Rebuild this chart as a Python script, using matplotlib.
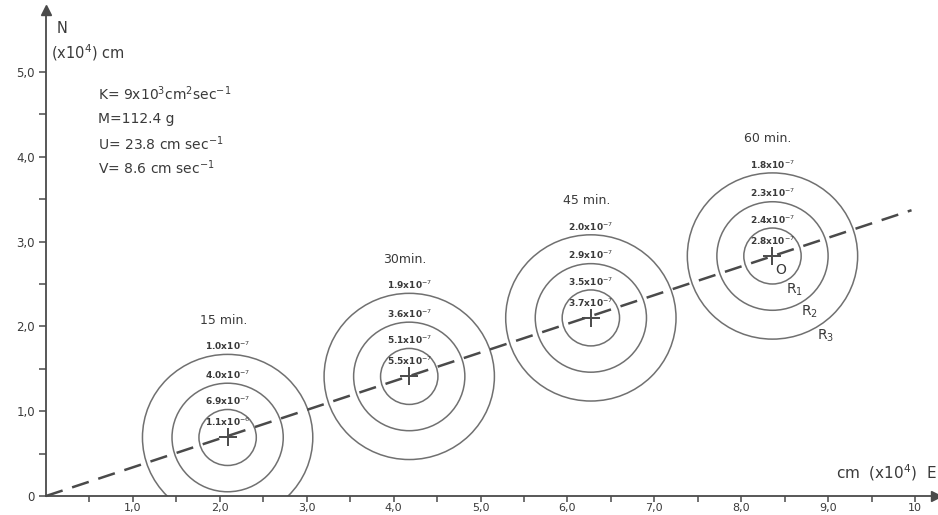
import matplotlib.pyplot as plt
import numpy as np
from matplotlib.patches import Circle
from matplotlib.ticker import FixedLocator, FixedFormatter

# plume centres (x10^4 cm) after each travel time
times = ["15 min.", "30min.", "45 min.", "60 min."]
centre_e = [2.09, 4.18, 6.27, 8.36]
centre_n = [0.69, 1.41, 2.10, 2.83]
radii = [0.33, 0.64, 0.98]  # R1, R2, R3

# concentration: centre, R1, R2, R3
conc = [
    ["1.1x10$^{-6}$", "6.9x10$^{-7}$", "4.0x10$^{-7}$", "1.0x10$^{-7}$"],
    ["5.5x10$^{-7}$", "5.1x10$^{-7}$", "3.6x10$^{-7}$", "1.9x10$^{-7}$"],
    ["3.7x10$^{-7}$", "3.5x10$^{-7}$", "2.9x10$^{-7}$", "2.0x10$^{-7}$"],
    ["2.8x10$^{-7}$", "2.4x10$^{-7}$", "2.3x10$^{-7}$", "1.8x10$^{-7}$"],
]

# plume path
path_e = [0.0, 9.96]
path_n = [0.0, 3.37]

params = ["K= 9x10$^3$cm$^2$sec$^{-1}$", "M=112.4 g",
          "U= 23.8 cm sec$^{-1}$", "V= 8.6 cm sec$^{-1}$"]

xticks = [1, 2, 3, 4, 5, 6, 7, 8, 9, 10]
xlabels = ["1,0", "2,0", "3,0", "4,0", "5,0", "6,0", "7,0", "8,0", "9,0", "10"]
yticks = [0, 1, 2, 3, 4, 5]
ylabels = ["0", "1,0", "2,0", "3,0", "4,0", "5,0"]

ink = "#4a4a4a"
txt = "#3a3a3a"

fig = plt.figure(figsize=(9.38, 5.15), dpi=100)
ax = fig.add_axes([46 / 938, 19 / 515, 890 / 938, 486 / 515])
ax.set_xlim(0, 890 / 86.9)
ax.set_ylim(0, 486 / 84.8)

for s in ["top", "right"]:
    ax.spines[s].set_visible(False)
for s in ["left", "bottom"]:
    ax.spines[s].set_color(ink)
    ax.spines[s].set_linewidth(1.3)

ax.xaxis.set_major_locator(FixedLocator(xticks))
ax.xaxis.set_major_formatter(FixedFormatter(xlabels))
ax.xaxis.set_minor_locator(FixedLocator(np.arange(0.5, 10, 1.0)))
ax.yaxis.set_major_locator(FixedLocator(yticks))
ax.yaxis.set_major_formatter(FixedFormatter(ylabels))
ax.yaxis.set_minor_locator(FixedLocator(np.arange(0.5, 5, 1.0)))
ax.tick_params(which="both", length=5, width=1.1, color=ink,
               labelcolor=txt, labelsize=8.5)
ax.tick_params(axis="x", which="both", length=4, pad=1, labelsize=8)
ax.tick_params(axis="y", pad=3)

# arrow heads
ax.plot(1, 0, ">", color=ink, ms=7, transform=ax.get_yaxis_transform(), clip_on=False)
ax.plot(0, 1, "^", color=ink, ms=7, transform=ax.get_xaxis_transform(), clip_on=False)

# path of the plume
ax.plot(path_e, path_n, color=ink, lw=1.8, dashes=(7, 4), clip_on=False)

for i in range(len(times)):
    cx, cy = centre_e[i], centre_n[i]
    for r in radii:
        ax.add_patch(Circle((cx, cy), r, fill=False, ec="#707070", lw=1.1))
    ax.plot(cx, cy, "+", color=ink, ms=13, mew=1.4)
    ax.text(cx, cy + 0.18, conc[i][0], fontsize=6.5, color=txt,
            ha="center", va="center", fontweight="bold")
    for j, r in enumerate(radii):
        ax.text(cx, cy + r + 0.1, conc[i][j + 1], fontsize=6.5, color=txt,
                ha="center", va="center", fontweight="bold")
    ax.text(cx - 0.05, cy + radii[-1] + 0.4, times[i], fontsize=9,
            color=txt, ha="center", va="center")

# labels of the last plume
cx, cy = centre_e[-1], centre_n[-1]
ax.text(cx + 0.1, cy - 0.16, "O", fontsize=10, color=txt, ha="center", va="center")
for j, r in enumerate(radii):
    ang = np.deg2rad(-57)
    ax.text(cx + (r + 0.14) * np.cos(ang), cy + (r + 0.14) * np.sin(ang),
            "R$_%d$" % (j + 1), fontsize=10, color=txt, ha="center", va="center")

# parameters
for k, p in enumerate(params):
    ax.text(0.6, 4.74 - 0.29 * k, p, fontsize=10, color=txt, ha="left", va="center")

ax.text(0.12, 5.51, "N", fontsize=10.5, color=txt, ha="left", va="center")
ax.text(0.06, 5.23, "(x10$^4$) cm", fontsize=10.5, color=txt, ha="left", va="center")
ax.text(10.25, 0.28, "cm  (x10$^4$)  E", fontsize=11, color=txt,
        ha="right", va="center")

fig.savefig("out.png", dpi=100)
